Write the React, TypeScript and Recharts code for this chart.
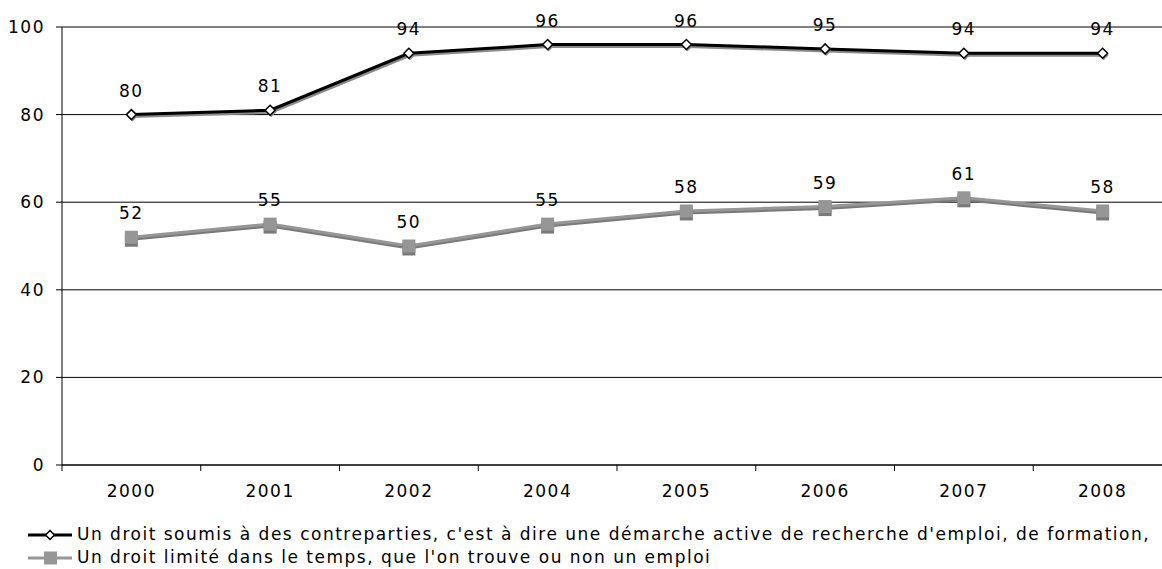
import React from 'react';
import { LineChart, Line, XAxis, YAxis, CartesianGrid, LabelList } from 'recharts';

const categories = ['2000', '2001', '2002', '2004', '2005', '2006', '2007', '2008'];
const seriesA = [80, 81, 94, 96, 96, 95, 94, 94];
const seriesB = [52, 55, 50, 55, 58, 59, 61, 58];
const yTicks = [0, 20, 40, 60, 80, 100];
const nameA = "Un droit soumis à des contreparties, c'est à dire une démarche active de recherche d'emploi, de formation,";
const nameB = "Un droit limité dans le temps, que l'on trouve ou non un emploi";

const data = categories.map((c, i) => ({ i, year: c, a: seriesA[i], b: seriesB[i] }));
const xTicks = categories.map((_, i) => i - 0.5).concat([categories.length - 0.5]);

const FONT = '"DejaVu Sans", Verdana, sans-serif';
const FS = 17;
const LS = 1.5;
const GRAY = '#969696';
const GRAY_SH = '#7a7a7a';

const XTick = (props: any) => {
  const { x, y, payload, width } = props;
  const idx = Math.round(payload.value + 0.5);
  if (idx < 0 || idx >= categories.length) return null;
  const w = Number(width) || 1110;
  const half = w / categories.length / 2;
  return (
    <text x={x + half} y={y} dy={24} textAnchor="middle" fill="#000" fontSize={FS} fontFamily={FONT} letterSpacing={LS}>
      {categories[idx]}
    </text>
  );
};

const Diamond = (props: any) => {
  const { cx, cy, index } = props;
  if (cx == null || cy == null) return null;
  const r = 5;
  const d = (x: number, y: number) => `M${x},${y - r} L${x + r},${y} L${x},${y + r} L${x - r},${y} Z`;
  return (
    <g key={`da-${index}`}>
      <path d={d(cx + 1, cy + 2)} fill="#8a8a8a" />
      <path d={d(cx, cy)} fill="#fff" stroke="#000" strokeWidth={1.5} />
    </g>
  );
};

const Square = (props: any) => {
  const { cx, cy, index } = props;
  if (cx == null || cy == null) return null;
  const s = 13;
  return (
    <g key={`sq-${index}`}>
      <rect x={cx - s / 2} y={cy - s / 2 + 3} width={s} height={s} fill={GRAY_SH} />
      <rect x={cx - s / 2} y={cy - s / 2} width={s} height={s} fill={GRAY} />
    </g>
  );
};

const LegendIconA = () => (
  <svg width={44} height={12} style={{ display: 'block' }}>
    <line x1={0} y1={6} x2={44} y2={6} stroke="#000" strokeWidth={3} />
    <path d="M22,1.5 L26.5,6 L22,10.5 L17.5,6 Z" fill="#fff" stroke="#000" strokeWidth={1.5} />
  </svg>
);
const LegendIconB = () => (
  <svg width={44} height={14} style={{ display: 'block' }}>
    <line x1={0} y1={7} x2={44} y2={7} stroke={GRAY} strokeWidth={3} />
    <rect x={16} y={0.5} width={13} height={13} fill={GRAY} />
  </svg>
);

export default function App() {
  return (
    <div style={{ position: 'absolute', left: 0, top: 0, width: 1162, height: 569, overflow: 'hidden', background: '#fff' }}>
      <style>{`
        .sA .recharts-line-curve { filter: drop-shadow(1px 2px 0 #8a8a8a); }
        .sB .recharts-line-curve { filter: drop-shadow(0px 2px 0 ${GRAY_SH}); }
      `}</style>
      <LineChart width={1180} height={569} data={data} margin={{ top: 27, right: 8, left: 0, bottom: 0 }}>
        <CartesianGrid vertical={false} stroke="#000" strokeWidth={1} />
        <XAxis
          dataKey="i"
          type="number"
          domain={[-0.5, categories.length - 0.5]}
          ticks={xTicks}
          interval={0}
          height={104}
          tickSize={6}
          tickMargin={2}
          axisLine={{ stroke: '#000' }}
          tickLine={{ stroke: '#000' }}
          tick={<XTick />}
        />
        <YAxis
          type="number"
          domain={[0, 100]}
          ticks={yTicks}
          width={62}
          tickSize={6}
          tickMargin={11}
          axisLine={{ stroke: '#000' }}
          tickLine={{ stroke: '#000' }}
          tick={{ fill: '#000', fontSize: FS, fontFamily: FONT, letterSpacing: LS }}
        />
        <Line
          className="sB"
          dataKey="b"
          stroke={GRAY}
          strokeWidth={3}
          dot={<Square />}
          activeDot={false}
          isAnimationActive={false}
        >
          <LabelList dataKey="b" position="top" offset={18} fill="#000" fontSize={FS} fontFamily={FONT} letterSpacing={LS} />
        </Line>
        <Line
          className="sA"
          dataKey="a"
          stroke="#000"
          strokeWidth={3}
          dot={<Diamond />}
          activeDot={false}
          isAnimationActive={false}
        >
          <LabelList dataKey="a" position="top" offset={18} fill="#000" fontSize={FS} fontFamily={FONT} letterSpacing={LS} />
        </Line>
      </LineChart>
      <div style={{ position: 'absolute', left: 28, top: 523, fontFamily: FONT, fontSize: FS, letterSpacing: LS, color: '#000', lineHeight: '23px' }}>
        <div style={{ display: 'flex', alignItems: 'center', whiteSpace: 'nowrap' }}>
          <LegendIconA />
          <span style={{ marginLeft: 5 }}>{nameA}</span>
        </div>
        <div style={{ display: 'flex', alignItems: 'center', whiteSpace: 'nowrap' }}>
          <LegendIconB />
          <span style={{ marginLeft: 5 }}>{nameB}</span>
        </div>
      </div>
    </div>
  );
}
